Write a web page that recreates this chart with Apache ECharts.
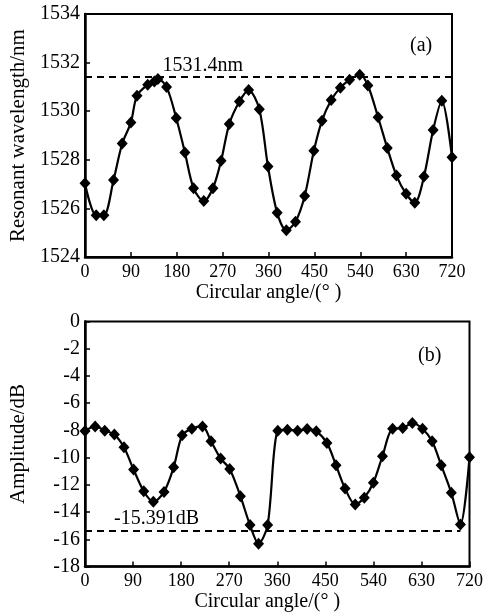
<!DOCTYPE html>
<html>
<head>
<meta charset="utf-8">
<script src="https://cdn.jsdelivr.net/npm/echarts@6/dist/echarts.min.js"></script>
<style>html,body{margin:0;padding:0;background:#fff;}#c{width:486px;height:615px;}</style>
</head>
<body>
<div id="c"></div>
<script>
// Panel (a): resonant wavelength vs circular angle
var angleA = [0,22,37,56,73,90,102,123,136,143,160,179,196,213,233,251,267,283,303,321,342,359,377,395,413,431,449,465,483,501,519,539,555,575,593,611,630,647,665,683,700,720];
var wavelengthA = [1527.03,1525.72,1525.72,1527.17,1528.67,1529.53,1530.64,1531.09,1531.22,1531.33,1531.0,1529.72,1528.3,1526.83,1526.3,1526.83,1527.96,1529.47,1530.4,1530.87,1530.08,1527.72,1525.82,1525.1,1525.45,1526.51,1528.37,1529.61,1530.46,1530.97,1531.29,1531.5,1531.06,1529.75,1528.49,1527.35,1526.6,1526.23,1527.31,1529.23,1530.43,1528.1];
var refA = 1531.4;
var refALabel = '1531.4nm';
var refALabelAngle = 231;

// Panel (b): amplitude vs circular angle
var angleB = [0,19,37,55,73,91,110,128,148,166,182,200,220,236,254,271,291,309,325,342,361,379,398,416,433,453,470,487,506,523,540,557,576,595,613,632,650,667,686,703,720];
var amplitudeB = [-8.05,-7.71,-8.02,-8.31,-9.24,-10.88,-12.47,-13.25,-12.52,-10.71,-8.36,-7.88,-7.71,-8.8,-10.07,-10.83,-12.83,-14.96,-16.32,-14.96,-8.02,-7.95,-8.02,-7.9,-8.07,-8.92,-10.56,-12.27,-13.44,-12.95,-11.85,-9.9,-7.88,-7.83,-7.46,-7.88,-8.8,-10.56,-12.59,-14.91,-9.98];
var refB = -15.391;
var refBLabel = '-15.391dB';
var refBLabelAngle = 134;
var refBEndAngle = 703;

var xTicks = [0,90,180,270,360,450,540,630,720];
var yTicksA = [1524,1526,1528,1530,1532,1534];
var yTicksB = [-18,-16,-14,-12,-10,-8,-6,-4,-2,0];

var FONT = '"Liberation Serif","Times New Roman",serif';

function pairs(xs, ys){ return xs.map(function(x,i){ return [x, ys[i]]; }); }

var chart = echarts.init(document.getElementById('c'), null, {renderer:'canvas'});

function xAxisCfg(gridIndex, extraPad){
  return {
    type:'value', gridIndex:gridIndex, min:xTicks[0], max:xTicks[xTicks.length-1], interval:90,
    name:'Circular angle/(° )', nameLocation:'middle', nameGap: gridIndex===0?26:23,
    nameTextStyle:{fontFamily:FONT, fontSize:20, color:'#000', padding:[0,extraPad,0,0]},
    axisLine:{show:true, onZero:false, lineStyle:{color:'#000', width:2.5}},
    axisTick:{show:true, inside:true, length:5, lineStyle:{color:'#000', width:1.5}},
    axisLabel:{fontFamily:FONT, fontSize:18, color:'#000', margin:6, formatter:function(v){return String(v);}},
    splitLine:{show:false}
  };
}
function yAxisCfg(gridIndex, name, min, max){
  return {
    type:'value', gridIndex:gridIndex, min:min, max:max, interval:2,
    name:name, nameLocation:'middle', nameGap:56,
    nameTextStyle:{fontFamily:FONT, fontSize:21, color:'#000'},
    axisLine:{show:true, onZero:false, lineStyle:{color:'#000', width:2.5}},
    axisTick:{show:true, inside:true, length:5, lineStyle:{color:'#000', width:1.5}},
    axisLabel:{fontFamily:FONT, fontSize:20, color:'#000', margin:5, formatter:function(v){return String(v);}},
    splitLine:{show:false}
  };
}

var option = {
  backgroundColor:'#fff',
  animation:false,
  grid:[
    {left:84, top:14, width:368, height:243, show:true, borderColor:'#000', borderWidth:2, containLabel:false},
    {left:84, top:321.5, width:386, height:245, show:true, borderColor:'#000', borderWidth:2, containLabel:false}
  ],
  xAxis:[ xAxisCfg(0,0), xAxisCfg(1,20) ],
  yAxis:[
    yAxisCfg(0,'Resonant wavelength/nm', yTicksA[0], yTicksA[yTicksA.length-1]),
    yAxisCfg(1,'Amplitude/dB', yTicksB[0], yTicksB[yTicksB.length-1])
  ],
  graphic:[
    {type:'text', left:410, top:36, style:{text:'(a)', fontFamily:FONT, fontSize:20, fill:'#000'}},
    {type:'text', left:418, top:346, style:{text:'(b)', fontFamily:FONT, fontSize:20, fill:'#000'}}
  ],
  series:[
    {
      type:'line', xAxisIndex:0, yAxisIndex:0, data:pairs(angleA, wavelengthA),
      smooth:0.3, symbol:'diamond', symbolSize:[11,12],
      lineStyle:{color:'#000', width:2.2}, itemStyle:{color:'#000'},
      markLine:{
        silent:true, symbol:['none','none'],
        lineStyle:{color:'#000', type:[7,5], width:2},
        label:{show:false},
        data:[[{coord:[xTicks[0], refA]},{coord:[xTicks[xTicks.length-1], refA]}]]
      },
      markPoint:{
        symbol:'circle', symbolSize:0,
        label:{show:true, position:'top', distance:1, fontFamily:FONT, fontSize:20, color:'#000', formatter:refALabel},
        data:[{coord:[refALabelAngle, refA]}]
      }
    },
    {
      type:'line', xAxisIndex:1, yAxisIndex:1, data:pairs(angleB, amplitudeB),
      smooth:0.3, symbol:'diamond', symbolSize:[11,12],
      lineStyle:{color:'#000', width:2.2}, itemStyle:{color:'#000'},
      markLine:{
        silent:true, symbol:['none','none'],
        lineStyle:{color:'#000', type:[7,5], width:2},
        label:{show:false},
        data:[[{coord:[xTicks[0], refB]},{coord:[refBEndAngle, refB]}]]
      },
      markPoint:{
        symbol:'circle', symbolSize:0,
        label:{show:true, position:'top', distance:2, fontFamily:FONT, fontSize:20, color:'#000', formatter:refBLabel},
        data:[{coord:[refBLabelAngle, refB]}]
      }
    }
  ]
};
chart.setOption(option);
</script>
</body>
</html>
